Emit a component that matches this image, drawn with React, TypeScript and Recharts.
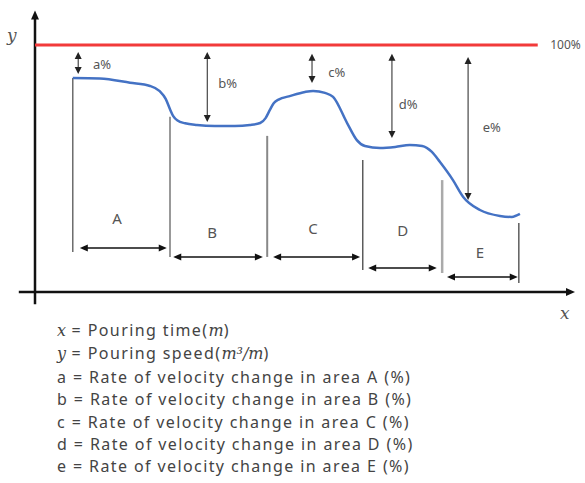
import React from "react";
import {LineChart, Line, XAxis, YAxis, ReferenceLine, ReferenceDot} from "recharts";

// pouring speed curve (x = time, y = speed, 100 = full speed)
const curve = [
    {t: 7.0, v: 86.6}, {t: 12.0, v: 86.4}, {t: 17.6, v: 84.7}, {t: 21.3, v: 83.4},
    {t: 23.1, v: 81.3}, {t: 24.2, v: 78.2}, {t: 25.0, v: 74.0}, {t: 25.6, v: 71.2},
    {t: 26.4, v: 69.4}, {t: 27.8, v: 68.3}, {t: 30.0, v: 67.6}, {t: 33.3, v: 67.2},
    {t: 37.0, v: 67.2}, {t: 39.8, v: 67.6}, {t: 41.7, v: 68.4}, {t: 42.7, v: 70.4},
    {t: 43.5, v: 73.7}, {t: 44.2, v: 76.4}, {t: 45.2, v: 78.0}, {t: 47.0, v: 79.2},
    {t: 50.0, v: 81.0}, {t: 51.5, v: 81.4}, {t: 53.7, v: 80.6},
    {t: 55.2, v: 79.0}, {t: 57.8, v: 68.4}, {t: 59.6, v: 61.5}, {t: 61.1, v: 59.1},
    {t: 63.9, v: 58.3}, {t: 66.7, v: 58.7}, {t: 69.4, v: 59.5}, {t: 71.7, v: 59.1},
    {t: 73.5, v: 56.7}, {t: 75.0, v: 52.6}, {t: 77.4, v: 45.3}, {t: 79.3, v: 38.5},
    {t: 82.4, v: 33.2}, {t: 86.1, v: 30.8}, {t: 88.3, v: 30.4}, {t: 89.8, v: 31.6},
];

const fullLevel = 100;
const fullEnd = 93.1;

// vertical lines splitting the areas
const separators = [
    {t: 7.0, top: 86.6, bottom: 16.2, color: "#555", w: 1.3},
    {t: 25.0, top: 70.9, bottom: 14.2, color: "#999", w: 2},
    {t: 43.0, top: 63.2, bottom: 14.2, color: "#888", w: 2},
    {t: 60.7, top: 53.4, bottom: 8.9, color: "#444", w: 1.3},
    {t: 75.4, top: 45.3, bottom: 7.7, color: "#aaa", w: 2.5},
    {t: 89.6, top: 27.9, bottom: 3.6, color: "#444", w: 1.3},
];

// horizontal double arrows under each area
const spans = [
    {area: "A", from: 8.3, to: 24.4, level: 17.8, lt: 15.2, lv: 30.0},
    {area: "B", from: 25.6, to: 42.2, level: 14.2, lt: 32.8, lv: 24.3},
    {area: "C", from: 44.1, to: 60.2, level: 14.2, lt: 51.5, lv: 25.9},
    {area: "D", from: 61.7, to: 74.4, level: 9.7, lt: 68.1, lv: 25.1},
    {area: "E", from: 76.3, to: 89.4, level: 6.1, lt: 82.4, lv: 16.2},
];

// drops from 100% line
const gaps = [
    {name: "a%", t: 8.0, top: 97.2, bottom: 88.3, lt: 12.4, lv: 92.3},
    {name: "b%", t: 31.9, top: 97.2, bottom: 68.8, lt: 35.7, lv: 84.6},
    {name: "c%", t: 51.3, top: 96.4, bottom: 84.6, lt: 55.9, lv: 89.1},
    {name: "d%", t: 66.1, top: 96.4, bottom: 62.3, lt: 69.1, lv: 76.1},
    {name: "e%", t: 80.2, top: 95.1, bottom: 37.2, lt: 84.6, lv: 66.8},
];

const notes = [
    ["x", " = Pouring time(", "m", ")"],
    ["y", " = Pouring speed(", "m³/m", ")"],
    ["", "a = Rate of velocity change in area A (%)"],
    ["", "b = Rate of velocity change in area B (%)"],
    ["", "c = Rate of velocity change in area C (%)"],
    ["", "d = Rate of velocity change in area D (%)"],
    ["", "e = Rate of velocity change in area E (%)"],
];

const sans = "'Noto Sans', sans-serif";
const serif = "'DejaVu Serif', serif";

function arrow(color: string, sw: number, heads: "start" | "end" | "both" | "none", len = 7, half = 3.5) {
    return (p: any) => {
        const {x1, y1, x2, y2} = p;
        const dx = x2 - x1, dy = y2 - y1;
        const d = Math.hypot(dx, dy) || 1;
        const ux = dx / d, uy = dy / d;
        const nx = -uy, ny = ux;
        const hasS = heads === "start" || heads === "both";
        const hasE = heads === "end" || heads === "both";
        const sx = hasS ? x1 + ux * len * 0.8 : x1;
        const sy = hasS ? y1 + uy * len * 0.8 : y1;
        const ex = hasE ? x2 - ux * len * 0.8 : x2;
        const ey = hasE ? y2 - uy * len * 0.8 : y2;
        const head = (tx: number, ty: number, dirx: number, diry: number) => {
            const bx = tx - dirx * len, by = ty - diry * len;
            return `${tx},${ty} ${bx + nx * half},${by + ny * half} ${bx - nx * half},${by - ny * half}`;
        };
        return (
            <g>
                <line x1={sx} y1={sy} x2={ex} y2={ey} stroke={color} strokeWidth={sw}/>
                {hasS && <polygon points={head(x1, y1, -ux, -uy)} fill={color}/>}
                {hasE && <polygon points={head(x2, y2, ux, uy)} fill={color}/>}
            </g>
        );
    };
}

function textAt(value: string, size: number, color: string, anchor = "middle", family = sans, italic = false) {
    return (p: any) => (
        <text x={p.cx} y={p.cy} fontSize={size} fill={color} textAnchor={anchor}
              dominantBaseline="central" fontFamily={family} fontStyle={italic ? "italic" : "normal"}>
            {value}
        </text>
    );
}

export default function App() {
    return (
        <div style={{position: "absolute", left: 0, top: 0, width: 585, height: 483, background: "#fff"}}>
            <LineChart width={585} height={483} data={curve}
                       margin={{top: 10.4, right: 10, bottom: 178.65, left: 18.8}}>
                <XAxis type="number" dataKey="t" domain={[-3, 100]} hide/>
                <YAxis type="number" domain={[-5, 114]} hide/>

                {/* axes */}
                <ReferenceLine segment={[{x: 0, y: -5}, {x: 0, y: 114}]} ifOverflow="visible"
                               shape={arrow("#111", 2.5, "end", 9, 4)}/>
                <ReferenceLine segment={[{x: -3, y: 0}, {x: 100, y: 0}]} ifOverflow="visible"
                               shape={arrow("#111", 2.5, "end", 9, 4)}/>
                <ReferenceDot x={-4.3} y={104} ifOverflow="visible" shape={textAt("y", 17, "#555", "middle", serif, true)}/>
                <ReferenceDot x={98.1} y={-8.7} ifOverflow="visible" shape={textAt("x", 17, "#555", "middle", serif, true)}/>

                {/* 100% line */}
                <ReferenceLine segment={[{x: 0, y: fullLevel}, {x: fullEnd, y: fullLevel}]}
                               stroke="#f23a3a" strokeWidth={3}/>
                <ReferenceDot x={95.4} y={fullLevel} ifOverflow="visible" shape={textAt("100%", 12, "#555", "start")}/>

                {separators.map((s, i) => (
                    <ReferenceLine key={"s" + i} segment={[{x: s.t, y: s.bottom}, {x: s.t, y: s.top}]}
                                   stroke={s.color} strokeWidth={s.w}/>
                ))}

                {spans.map(s => (
                    <ReferenceLine key={"sp" + s.area} segment={[{x: s.from, y: s.level}, {x: s.to, y: s.level}]}
                                   shape={arrow("#111", 1.5, "both", 8, 3.5)}/>
                ))}
                {spans.map(s => (
                    <ReferenceDot key={"sl" + s.area} x={s.lt} y={s.lv} shape={textAt(s.area, 15, "#555")}/>
                ))}

                {gaps.map(g => (
                    <ReferenceLine key={"g" + g.name} segment={[{x: g.t, y: g.bottom}, {x: g.t, y: g.top}]}
                                   shape={arrow("#222", 1, "both", 7, 3.5)}/>
                ))}
                {gaps.map(g => (
                    <ReferenceDot key={"gl" + g.name} x={g.lt} y={g.lv} shape={textAt(g.name, 13, "#555")}/>
                ))}

                <Line type="monotone" dataKey="v" stroke="#4472c4" strokeWidth={2.5} dot={false}
                      isAnimationActive={false}/>
            </LineChart>
            <div style={{position: "absolute", left: 57, top: 319, fontFamily: sans, fontSize: 16,
                letterSpacing: "1.4px", color: "#444", lineHeight: "22.4px", whiteSpace: "nowrap"}}>
                {notes.map((n, i) => (
                    <div key={i}>
                        {n[0] && <span style={{fontFamily: serif, fontStyle: "italic", letterSpacing: 0}}>{n[0]}</span>}
                        {n[1]}
                        {n[2] && <span style={{fontFamily: serif, fontStyle: "italic", letterSpacing: 0}}>{n[2]}</span>}
                        {n[3]}
                    </div>
                ))}
            </div>
        </div>
    );
}
